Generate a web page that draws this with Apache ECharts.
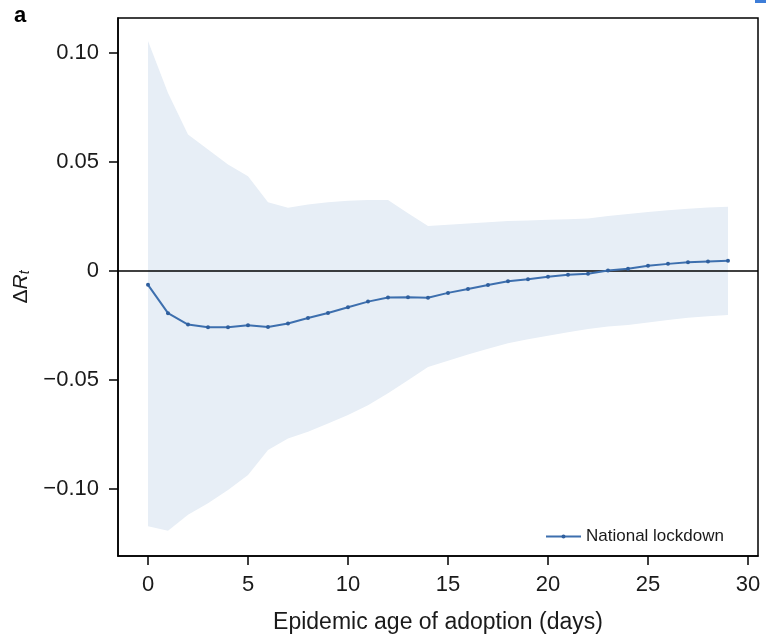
<!DOCTYPE html>
<html>
<head>
<meta charset="utf-8">
<style>
  html, body { margin: 0; padding: 0; background: #fff; }
  #chart { width: 766px; height: 639px; }
</style>
<script src="https://cdn.jsdelivr.net/npm/echarts@6/dist/echarts.min.js"></script>
</head>
<body>
<div id="chart"></div>
<script>
// Epidemic age of adoption (days)
const days = [0, 1, 2, 3, 4, 5, 6, 7, 8, 9, 10, 11, 12, 13, 14, 15, 16, 17, 18, 19,
  20, 21, 22, 23, 24, 25, 26, 27, 28, 29];

// Estimated change in R_t for a national lockdown
const deltaRt = [-0.0063, -0.0193, -0.0245, -0.0257, -0.0257, -0.0248, -0.0256, -0.0240,
  -0.0215, -0.0192, -0.0166, -0.0140, -0.0121, -0.0120, -0.0122, -0.0100, -0.0082,
  -0.0064, -0.0047, -0.0037, -0.0026, -0.0017, -0.0012, 0.0003, 0.0011, 0.0024,
  0.0033, 0.0041, 0.0044, 0.0047];

// Confidence band bounds
const upperBound = [0.1055, 0.0816, 0.0626, 0.0557, 0.0489, 0.0435, 0.0316, 0.0290,
  0.0305, 0.0315, 0.0322, 0.0326, 0.0326, 0.0265, 0.0207, 0.0212, 0.0218, 0.0224,
  0.0229, 0.0232, 0.0235, 0.0238, 0.0241, 0.0252, 0.0262, 0.0271, 0.0279, 0.0286,
  0.0291, 0.0295];
const lowerBound = [-0.1170, -0.1190, -0.1117, -0.1064, -0.1003, -0.0935, -0.0820,
  -0.0767, -0.0737, -0.0699, -0.0660, -0.0615, -0.0560, -0.0500, -0.0440, -0.0411,
  -0.0382, -0.0356, -0.0331, -0.0313, -0.0296, -0.0280, -0.0266, -0.0254, -0.0247,
  -0.0236, -0.0224, -0.0214, -0.0207, -0.0201];

const xTicks = [0, 5, 10, 15, 20, 25, 30];
const yTicks = [-0.10, -0.05, 0, 0.05, 0.10];

const FONT = '"Liberation Sans", Arial, sans-serif';
const INK = '#1a1a1a';
const LINE_BLUE = '#3d6fae';
const BAND = '#e7eef6';

const chart = echarts.init(document.getElementById('chart'), null, { renderer: 'canvas' });

const option = {
  animation: false,
  backgroundColor: '#fff',
  textStyle: { fontFamily: FONT },
  grid: {
    left: 118, right: 8, top: 18, bottom: 81,
    show: true, borderColor: '#000', borderWidth: 1.5, backgroundColor: 'transparent'
  },
  legend: {
    left: 540, top: 523,
    itemWidth: 35, itemHeight: 5, itemGap: 8,
    textStyle: { fontFamily: FONT, fontSize: 17, color: INK },
    data: ['National lockdown']
  },
  xAxis: {
    type: 'value', min: -1.5, max: 30.5,
    name: 'Epidemic age of adoption (days)',
    nameLocation: 'middle', nameGap: 55,
    nameTextStyle: { fontFamily: FONT, fontSize: 23, color: INK },
    axisLine: { show: true, onZero: false, lineStyle: { color: '#000', width: 1.5 } },
    axisTick: { show: true, length: 9, lineStyle: { color: '#000', width: 1.5 }, customValues: xTicks },
    axisLabel: { fontFamily: FONT, fontSize: 22, color: INK, margin: 18, customValues: xTicks },
    splitLine: { show: false }
  },
  yAxis: {
    type: 'value', min: -0.1306, max: 0.116,
    name: '{d|Δ}{r|R}{t|t}',
    nameLocation: 'middle', nameRotate: 90, nameGap: 78,
    nameTextStyle: {
      fontFamily: FONT, color: INK,
      rich: {
        d: { fontFamily: FONT, fontSize: 21, color: INK },
        r: { fontFamily: FONT, fontSize: 21, fontStyle: 'italic', color: INK },
        t: { fontFamily: FONT, fontSize: 14, fontStyle: 'italic', color: INK, verticalAlign: 'bottom', padding: [9, 0, 0, 0] }
      }
    },
    axisLine: { show: true, onZero: false, lineStyle: { color: '#000', width: 1.5 } },
    axisTick: { show: true, length: 9, lineStyle: { color: '#000', width: 1.5 }, customValues: yTicks },
    axisLabel: {
      fontFamily: FONT, fontSize: 22, color: INK, margin: 19, customValues: yTicks,
      formatter: function (v) {
        if (Math.abs(v) < 1e-9) return '0';
        return v.toFixed(2).replace('-', '\u2212');
      }
    },
    splitLine: { show: false }
  },
  graphic: [
    {
      type: 'text', left: 14, top: 5,
      style: { text: 'a', font: 'bold 22px ' + FONT, fill: '#000' }
    },
    {
      type: 'rect', shape: { x: 755, y: 0, width: 11, height: 3 },
      style: { fill: '#3d7dd8' }
    }
  ],
  series: [
    {
      name: 'band',
      type: 'custom',
      silent: true,
      z: 1,
      data: [0],
      renderItem: function (params, api) {
        const pts = [];
        for (let i = 0; i < days.length; i++) pts.push(api.coord([days[i], upperBound[i]]));
        for (let i = days.length - 1; i >= 0; i--) pts.push(api.coord([days[i], lowerBound[i]]));
        return { type: 'polygon', shape: { points: pts }, style: { fill: BAND } };
      }
    },
    {
      name: 'National lockdown',
      type: 'line',
      z: 3,
      data: days.map((d, i) => [d, deltaRt[i]]),
      symbol: 'circle',
      symbolSize: 4,
      showSymbol: true,
      lineStyle: { color: LINE_BLUE, width: 2 },
      itemStyle: { color: '#2f5f9e' },
      markLine: {
        silent: true,
        symbol: 'none',
        label: { show: false },
        lineStyle: { color: '#000', width: 1.5, type: 'solid' },
        data: [{ yAxis: 0 }],
        z: 2
      }
    }
  ]
};

chart.setOption(option);
</script>
</body>
</html>
